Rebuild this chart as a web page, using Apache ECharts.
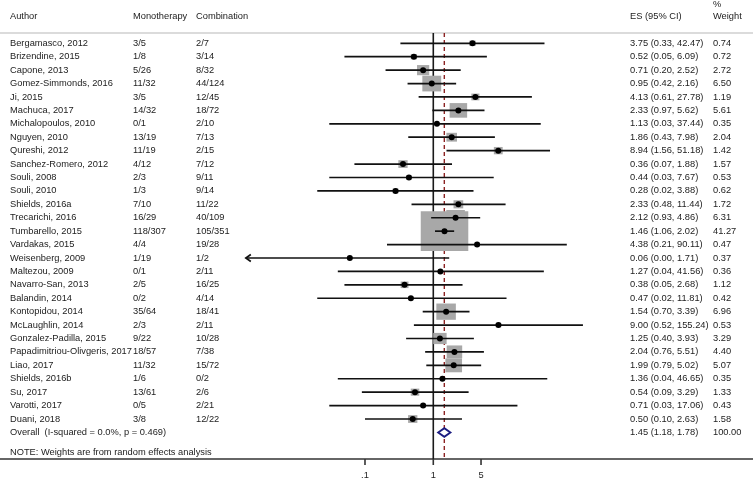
<!DOCTYPE html>
<html><head><meta charset="utf-8">
<script src="https://cdn.jsdelivr.net/npm/echarts@6/dist/echarts.min.js"></script>
<style>html,body{margin:0;padding:0;background:#fff}#c{width:753px;height:479px}</style>
</head><body><div id="c"></div>
<script>
const authors = ['Bergamasco, 2012','Brizendine, 2015','Capone, 2013','Gomez-Simmonds, 2016','Ji, 2015','Machuca, 2017','Michalopoulos, 2010','Nguyen, 2010','Qureshi, 2012','Sanchez-Romero, 2012','Souli, 2008','Souli, 2010','Shields, 2016a','Trecarichi, 2016','Tumbarello, 2015','Vardakas, 2015','Weisenberg, 2009','Maltezou, 2009','Navarro-San, 2013','Balandin, 2014','Kontopidou, 2014','McLaughlin, 2014','Gonzalez-Padilla, 2015','Papadimitriou-Olivgeris, 2017','Liao, 2017','Shields, 2016b','Su, 2017','Varotti, 2017','Duani, 2018'];
const mono = ['3/5','1/8','5/26','11/32','3/5','14/32','0/1','13/19','11/19','4/12','2/3','1/3','7/10','16/29','118/307','4/4','1/19','0/1','2/5','0/2','35/64','2/3','9/22','18/57','11/32','1/6','13/61','0/5','3/8'];
const combo = ['2/7','3/14','8/32','44/124','12/45','18/72','2/10','7/13','2/15','7/12','9/11','9/14','11/22','40/109','105/351','19/28','1/2','2/11','16/25','4/14','18/41','2/11','10/28','7/38','15/72','0/2','2/6','2/21','12/22'];
const es = [3.75,0.52,0.71,0.95,4.13,2.33,1.13,1.86,8.94,0.36,0.44,0.28,2.33,2.12,1.46,4.38,0.06,1.27,0.38,0.47,1.54,9.00,1.25,2.04,1.99,1.36,0.54,0.71,0.50];
const lo = [0.33,0.05,0.20,0.42,0.61,0.97,0.03,0.43,1.56,0.07,0.03,0.02,0.48,0.93,1.06,0.21,0.00,0.04,0.05,0.02,0.70,0.52,0.40,0.76,0.79,0.04,0.09,0.03,0.10];
const hi = [42.47,6.09,2.52,2.16,27.78,5.62,37.44,7.98,51.18,1.88,7.67,3.88,11.44,4.86,2.02,90.11,1.71,41.56,2.68,11.81,3.39,155.24,3.93,5.51,5.02,46.65,3.29,17.06,2.63];
const weight = [0.74,0.72,2.72,6.50,1.19,5.61,0.35,2.04,1.42,1.57,0.53,0.62,1.72,6.31,41.27,0.47,0.37,0.36,1.12,0.42,6.96,0.53,3.29,4.40,5.07,0.35,1.33,0.43,1.58];
const overallLabel = 'Overall  (I-squared = 0.0%, p = 0.469)';
const overallEs = 1.45, overallLo = 1.18, overallHi = 1.78, overallWeight = 100.00;
const headers = ['Author','Monotherapy','Combination','ES (95% CI)','%','Weight'];
const noteText = 'NOTE: Weights are from random effects analysis';
const tickValues = [0.1, 1, 5];
const tickLabels = ['.1', '1', '5'];

const Y_MIN = -0.767, Y_MAX = 30.98;
const CLIP_MIN = 0.0018;
const X_MIN = Math.pow(10, -6.344), X_MAX = Math.pow(10, 4.681);
const FONT = '9.3px "Liberation Sans", Arial, sans-serif';
const TXT = '#222';
const COLX = [10, 133, 196, 630, 713];

function txt(x, y, s, align) {
  return {type: 'text', x: x, y: y, silent: true,
    style: {text: s, fill: TXT, font: FONT, align: align || 'left', verticalAlign: 'middle',
            textAlign: align || 'left', textVerticalAlign: 'middle'}};
}

const nStudy = authors.length;
const rowData = authors.map((a, i) => [es[i], i, lo[i], hi[i], weight[i]]);
const overallRow = nStudy;

const chart = echarts.init(document.getElementById('c'), null, {renderer: 'canvas'});
chart.setOption({
  animation: false,
  backgroundColor: '#fff',
  grid: {left: 0, right: 0, top: 33, bottom: 20},
  xAxis: {type: 'log', logBase: 10, min: X_MIN, max: X_MAX,
    axisLine: {show: true, onZero: false, lineStyle: {color: '#333', width: 1.6}},
    axisTick: {show: false}, axisLabel: {show: false}, splitLine: {show: false}},
  yAxis: {type: 'value', inverse: true, min: Y_MIN, max: Y_MAX, show: false},
  series: [
    { // reference lines, frame, ticks
      type: 'custom', z: 1, clip: false, silent: true,
      data: [[overallEs, 0]],
      encode: {x: 0, y: 1},
      renderItem: function (params, api) {
        const top = api.coord([1, Y_MIN])[1];
        const bot = api.coord([1, Y_MAX])[1];
        const x1 = api.coord([1, 0])[0];
        const xo = api.coord([api.value(0), 0])[0];
        const ch = [
          {type: 'line', shape: {x1: 0, y1: top, x2: 753, y2: top}, style: {stroke: '#cfcfcf', lineWidth: 1.6}},
          {type: 'line', shape: {x1: x1, y1: top, x2: x1, y2: bot}, style: {stroke: '#1a1a1a', lineWidth: 1.6}},
          {type: 'line', shape: {x1: xo, y1: top, x2: xo, y2: bot}, style: {stroke: '#8c2323', lineWidth: 1.4, lineDash: [4, 3]}}
        ];
        tickValues.forEach((v, k) => {
          const x = api.coord([v, Y_MAX])[0];
          ch.push({type: 'line', shape: {x1: x, y1: bot, x2: x, y2: bot + 6}, style: {stroke: '#333', lineWidth: 1.6}});
          ch.push(txt(x, bot + 16, tickLabels[k], 'center'));
        });
        return {type: 'group', children: ch};
      }
    },
    { // weight boxes
      type: 'custom', z: 2, silent: true,
      data: rowData, encode: {x: 0, y: 1},
      renderItem: function (params, api) {
        const p = api.coord([api.value(0), api.value(1)]);
        const bw = 7.4 * Math.sqrt(api.value(4));
        const bh = bw / 1.2;
        return {type: 'rect', shape: {x: p[0] - bw / 2, y: p[1] - bh / 2, width: bw, height: bh},
          style: {fill: '#a8a8a8'}};
      }
    },
    { // CI lines and point estimates
      type: 'custom', z: 3, silent: true,
      data: rowData, encode: {x: 0, y: 1},
      renderItem: function (params, api) {
        const r = api.value(1);
        const l = api.value(2), h = api.value(3);
        const clipped = l < CLIP_MIN;
        const pl = api.coord([clipped ? CLIP_MIN : l, r]);
        const ph = api.coord([h, r]);
        const p = api.coord([api.value(0), r]);
        const ch = [
          {type: 'line', shape: {x1: pl[0], y1: pl[1], x2: ph[0], y2: ph[1]}, style: {stroke: '#111', lineWidth: 1.7}}
        ];
        if (clipped) {
          ch.push({type: 'polyline', shape: {points: [[pl[0] + 5, pl[1] - 3.5], [pl[0], pl[1]], [pl[0] + 5, pl[1] + 3.5]]},
            style: {stroke: '#111', lineWidth: 1.7, fill: null}});
        }
        ch.push({type: 'circle', shape: {cx: p[0], cy: p[1], r: 3}, style: {fill: '#000'}});
        return {type: 'group', children: ch};
      }
    },
    { // overall diamond
      type: 'custom', z: 3, silent: true,
      data: [[overallEs, overallRow, overallLo, overallHi]], encode: {x: 0, y: 1},
      renderItem: function (params, api) {
        const r = api.value(1);
        const p = api.coord([api.value(0), r]);
        const pl = api.coord([api.value(2), r]);
        const ph = api.coord([api.value(3), r]);
        return {type: 'polygon', shape: {points: [[pl[0], p[1]], [p[0], p[1] - 4.3], [ph[0], p[1]], [p[0], p[1] + 4.3]]},
          style: {fill: '#fff', stroke: '#1c1c80', lineWidth: 1.9}};
      }
    },
    { // table text
      type: 'custom', z: 4, clip: false, silent: true,
      data: rowData.map(d => [1, d[1]]).concat([[1, overallRow]]), encode: {x: 0, y: 1},
      renderItem: function (params, api) {
        const i = params.dataIndex;
        const y = api.coord([1, api.value(1)])[1];
        const ch = [];
        if (i < nStudy) {
          ch.push(txt(COLX[0], y, authors[i]));
          ch.push(txt(COLX[1], y, mono[i]));
          ch.push(txt(COLX[2], y, combo[i]));
          ch.push(txt(COLX[3], y, es[i].toFixed(2) + ' (' + lo[i].toFixed(2) + ', ' + hi[i].toFixed(2) + ')'));
          ch.push(txt(COLX[4], y, weight[i].toFixed(2)));
        } else {
          ch.push(txt(COLX[0], y, overallLabel));
          ch.push(txt(COLX[3], y, overallEs.toFixed(2) + ' (' + overallLo.toFixed(2) + ', ' + overallHi.toFixed(2) + ')'));
          ch.push(txt(COLX[4], y, overallWeight.toFixed(2)));
          const yh = api.coord([1, -1.98])[1];
          const yp = api.coord([1, -2.93])[1];
          ch.push(txt(COLX[0], yh, headers[0]));
          ch.push(txt(COLX[1], yh, headers[1]));
          ch.push(txt(COLX[2], yh, headers[2]));
          ch.push(txt(COLX[3], yh, headers[3]));
          ch.push(txt(COLX[4], yp, headers[4]));
          ch.push(txt(COLX[4], yh, headers[5]));
          const yn = api.coord([1, 30.5])[1];
          ch.push(txt(COLX[0], yn, noteText));
        }
        return {type: 'group', children: ch};
      }
    }
  ]
});
</script>
</body></html>
